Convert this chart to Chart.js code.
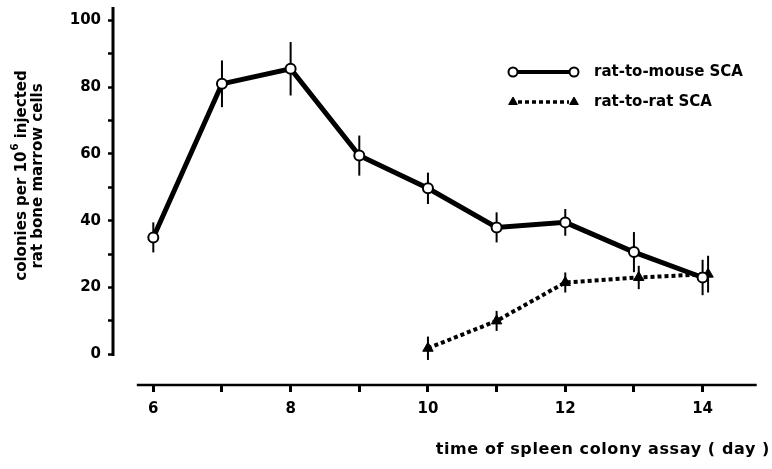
<!DOCTYPE html>
<html>
<head>
<meta charset="utf-8">
<script src="https://cdn.jsdelivr.net/npm/chart.js@4.4.1/dist/chart.umd.min.js"></script>
<style>
  html, body { margin: 0; padding: 0; background: #fff; }
  canvas { display: block; }
</style>
</head>
<body>
<canvas id="graf" width="772" height="469"></canvas>
<script>
// ---------- data ----------
const mouseDays = [6, 7, 8, 9, 10, 11, 12, 13, 14];
const mouseColonies = [35, 81, 85.5, 59.5, 49.7, 38, 39.5, 30.6, 23];
const mouseErr = [4.5, 7, 8, 6, 4.7, 4.5, 4, 6, 5.3];

const ratDays = [10, 11, 12, 13.07, 14.08];
const ratColonies = [1.8, 10, 21.5, 23, 24];
const ratErr = [3.5, 3, 3, 3.5, 5.5];

const seriesNames = ["rat-to-mouse SCA", "rat-to-rat SCA"];
const dayTicks = [6, 7, 8, 9, 10, 11, 12, 13, 14];
const colonyTicks = [0, 10, 20, 30, 40, 50, 60, 70, 80, 90, 100];

const xTitle = "time of spleen colony assay ( day )";
const yTitleTop = ["colonies per 10", "6", " injected"];
const yTitleBottom = "rat bone marrow cells";

// ---------- look ----------
const FONT = "DejaVu Sans";
const INK = "#000";

function pts(xs, ys) {
  return xs.map((x, i) => ({ x: x, y: ys[i] }));
}

// vertical error bars, drawn under the markers
const errorBars = {
  id: "errorBars",
  beforeDatasetsDraw(chart) {
    const { ctx, scales: { x, y } } = chart;
    ctx.save();
    ctx.strokeStyle = INK;
    ctx.lineWidth = 2;
    chart.data.datasets.forEach((ds) => {
      ds.data.forEach((p, i) => {
        const px = x.getPixelForValue(p.x);
        ctx.beginPath();
        ctx.moveTo(px, y.getPixelForValue(p.y + ds.err[i]));
        ctx.lineTo(px, y.getPixelForValue(p.y - ds.err[i]));
        ctx.stroke();
      });
    });
    ctx.restore();
  },
};

// detached axis lines, axis titles and the key
const decor = {
  id: "decor",
  afterDraw(chart) {
    const { ctx, chartArea, scales: { x, y } } = chart;
    ctx.save();
    ctx.strokeStyle = INK;
    ctx.fillStyle = INK;

    // y axis
    ctx.lineWidth = 3;
    ctx.beginPath();
    ctx.moveTo(chartArea.left, chartArea.top);
    ctx.lineTo(chartArea.left, y.getPixelForValue(-0.5));
    ctx.stroke();

    // x axis, starts a bit right of the y axis
    ctx.lineWidth = 2.5;
    ctx.beginPath();
    ctx.moveTo(x.getPixelForValue(5.76), chartArea.bottom);
    ctx.lineTo(chartArea.right, chartArea.bottom);
    ctx.stroke();

    // x title
    ctx.font = `bold 16px ${FONT}`;
    ctx.letterSpacing = "0.6px";
    ctx.textBaseline = "middle";
    ctx.textAlign = "right";
    ctx.fillText(xTitle, 770, 450);
    ctx.letterSpacing = "0px";

    // y title, two rotated lines with a superscript
    ctx.translate(22, 176);
    ctx.rotate(-Math.PI / 2);
    const big = `bold 15px ${FONT}`;
    const small = `bold 10px ${FONT}`;
    ctx.textAlign = "left";
    ctx.font = big;
    const wa = ctx.measureText(yTitleTop[0]).width;
    const wb = ctx.measureText(yTitleTop[2]).width;
    ctx.font = small;
    const ws = ctx.measureText(yTitleTop[1]).width;
    let cx = -(wa + ws + wb) / 2;
    ctx.font = big;
    ctx.fillText(yTitleTop[0], cx, 0);
    cx += wa;
    ctx.font = small;
    ctx.fillText(yTitleTop[1], cx + 1, -7);
    cx += ws + 1;
    ctx.font = big;
    ctx.fillText(yTitleTop[2], cx, 0);
    ctx.textAlign = "center";
    ctx.fillText(yTitleBottom, 0, 16.5);
    ctx.restore();

    // key: marker - line - marker, then the name
    ctx.save();
    const rows = [72, 102];
    const x0 = 513, x1 = 574, tx = 594;
    chart.data.datasets.forEach((ds, i) => {
      const yy = rows[i];
      ctx.strokeStyle = INK;
      ctx.lineWidth = ds.keyLineWidth;
      ctx.setLineDash(ds.borderDash || []);
      ctx.beginPath();
      ctx.moveTo(x0 + 5, yy);
      ctx.lineTo(x1 - 5, yy);
      ctx.stroke();
      ctx.setLineDash([]);
      ctx.fillStyle = ds.pointBackgroundColor;
      ctx.strokeStyle = ds.pointBorderColor;
      ctx.lineWidth = ds.pointBorderWidth;
      const opt = { pointStyle: ds.pointStyle, radius: ds.keyRadius, borderWidth: ds.pointBorderWidth, rotation: 0 };
      Chart.helpers.drawPoint(ctx, opt, x0, yy);
      Chart.helpers.drawPoint(ctx, opt, x1, yy);
      ctx.fillStyle = INK;
      ctx.font = `bold 15px ${FONT}`;
      ctx.textAlign = "left";
      ctx.textBaseline = "middle";
      ctx.fillText(seriesNames[i], tx, yy);
    });
    ctx.restore();
  },
};

// ---------- chart ----------
new Chart(document.getElementById("graf"), {
  type: "line",
  data: {
    datasets: [
      {
        label: seriesNames[0],
        data: pts(mouseDays, mouseColonies),
        err: mouseErr,
        borderColor: INK,
        borderWidth: 5,
        pointStyle: "circle",
        pointRadius: 5,
        pointBorderWidth: 2,
        pointBackgroundColor: "#fff",
        pointBorderColor: INK,
        keyLineWidth: 4,
        keyRadius: 4.5,
        tension: 0,
      },
      {
        label: seriesNames[1],
        data: pts(ratDays, ratColonies),
        err: ratErr,
        borderColor: INK,
        borderWidth: 4,
        borderDash: [4, 3],
        pointStyle: "triangle",
        pointRadius: 6,
        pointBorderWidth: 1,
        pointBackgroundColor: INK,
        pointBorderColor: INK,
        keyLineWidth: 3.5,
        keyRadius: 5,
        tension: 0,
      },
    ],
  },
  options: {
    responsive: false,
    animation: false,
    layout: { padding: { left: 0, right: 15.3, top: 3, bottom: 0 } },
    plugins: { legend: { display: false }, tooltip: { enabled: false } },
    scales: {
      x: {
        type: "linear",
        min: 5.413,
        max: 14.788,
        afterFit: (s) => {
          s.height = 84;
          s.paddingLeft = 0;
          s.paddingRight = 0;
        },
        afterBuildTicks: (s) => { s.ticks = dayTicks.map((v) => ({ value: v })); },
        border: { display: false },
        grid: { drawOnChartArea: false, drawTicks: true, tickLength: 7, tickWidth: 3, tickColor: INK },
        ticks: {
          color: INK,
          padding: 8,
          maxRotation: 0,
          autoSkip: false,
          font: { family: FONT, size: 15, weight: "bold" },
          callback: (v) => (v % 2 === 0 ? v : ""),
        },
      },
      y: {
        min: -9.2,
        max: 104,
        afterFit: (s) => {
          s.width = 113;
          s.paddingTop = 0;
          s.paddingBottom = 0;
        },
        afterBuildTicks: (s) => { s.ticks = colonyTicks.map((v) => ({ value: v })); },
        border: { display: false },
        grid: { drawOnChartArea: false, drawTicks: true, tickLength: 5, tickWidth: 2.5, tickColor: INK },
        ticks: {
          color: INK,
          padding: 7,
          autoSkip: false,
          font: { family: FONT, size: 15, weight: "bold" },
          callback: (v) => (v % 20 === 0 ? v : ""),
        },
      },
    },
  },
  plugins: [errorBars, decor],
});
</script>
</body>
</html>
